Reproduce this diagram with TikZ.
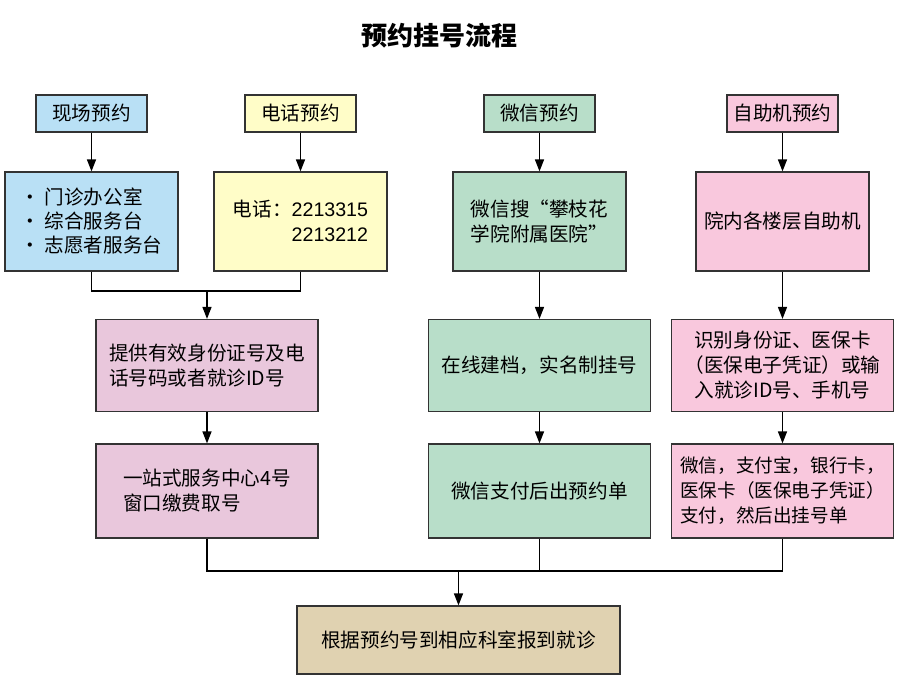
\documentclass[tikz,border=0pt]{standalone}
\usepackage{fontspec}
\newfontfamily\cjk{Noto Sans CJK SC}
\newfontfamily\lat{Liberation Sans}
\usetikzlibrary{arrows.meta}
\definecolor{xcblue}{HTML}{B9E0F5}
\definecolor{dhyellow}{HTML}{FFFDC8}
\definecolor{wxgreen}{HTML}{B8DEC9}
\definecolor{zzpink}{HTML}{F9C8DD}
\definecolor{tgmauve}{HTML}{E9C7DC}
\definecolor{jztan}{HTML}{E0D2B1}

\begin{document}
\begin{tikzpicture}[x=1pt,y=-1pt,
  box/.style={draw=black!80,line width=1.2pt,inner sep=0pt,
    font=\cjk\fontsize{19.6pt}{25pt}\selectfont},
  head/.style={box,minimum width=111pt,minimum height=37pt},
  mid/.style={box,minimum width=173pt,minimum height=99pt},
  low/.style={box,minimum width=222pt,minimum height=92pt},
  flow/.style={line width=1.4pt,-{Triangle[width=9pt,length=12pt]}},
  merge/.style={line width=1.4pt}]
  \useasboundingbox (0,0) rectangle (898,693);

  \node[font=\cjk\bfseries\fontsize{26pt}{30pt}\selectfont] (title) at (439,36) {预约挂号流程};

  % first row
  \node[head,fill=xcblue] (xianchang) at (91.5,113.5) {现场预约};
  \node[head,fill=dhyellow] (dianhua) at (300.5,113.5) {电话预约};
  \node[head,fill=wxgreen] (weixin) at (539.5,113.5) {微信预约};
  \node[head,fill=zzpink] (zizhu) at (782.5,113.5) {自助机预约};

  % second row
  \node[mid,fill=xcblue,align=left,font=\cjk\fontsize{19.6pt}{24pt}\selectfont] (xianchang2) at (91.5,221.5)
    {· 门诊办公室\\· 综合服务台\\· 志愿者服务台};
  \node[mid,fill=dhyellow,align=left] (dianhua2) at (300.5,221.5)
    {电话：{\lat 2213315}\\\phantom{电话：}{\lat 2213212}};
  \node[mid,fill=wxgreen,align=left] (weixin2) at (539.5,221.5)
    {微信搜“攀枝花\\学院附属医院”};
  \node[mid,fill=zzpink] (zizhu2) at (782.5,221.5) {院内各楼层自助机};

  % third row
  \node[low,fill=tgmauve,align=left] (tigong) at (207,365.5)
    {提供有效身份证号及电\\话号码或者就诊ID号};
  \node[low,fill=wxgreen] (jiandang) at (539.5,365.5) {在线建档，实名制挂号};
  \node[low,fill=zzpink,align=center] (shibie) at (782.5,365.5)
    {识别身份证、医保卡\\（医保电子凭证）或输\\入就诊ID号、手机号};

  % fourth row
  \node[low,fill=tgmauve,align=left,minimum height=94pt] (yizhan) at (207,491)
    {一站式服务中心4号\\窗口缴费取号};
  \node[low,fill=wxgreen,minimum height=94pt] (wxzhifu) at (539.5,491) {微信支付后出预约单};
  \node[low,fill=zzpink,align=left,minimum height=94pt,
    font=\cjk\fontsize{18.6pt}{25pt}\selectfont] (zhifu) at (782.5,491)
    {微信，支付宝，银行卡，\\医保卡（医保电子凭证）\\支付，然后出挂号单};

  \node[box,fill=jztan,minimum width=323pt,minimum height=68pt] (jiuzhen) at (458.5,640)
    {根据预约号到相应科室报到就诊};

  \coordinate (m1) at (207,291);
  \coordinate (m2) at (458.5,571);

  \draw[flow] (xianchang) -- (xianchang2);
  \draw[flow] (dianhua) -- (dianhua2);
  \draw[flow] (weixin) -- (weixin2);
  \draw[flow] (zizhu) -- (zizhu2);
  \draw[merge] (xianchang2.south) |- (m1) -| (dianhua2.south);
  \draw[flow] (m1) -- (tigong);
  \draw[flow] (weixin2) -- (jiandang);
  \draw[flow] (zizhu2) -- (shibie);
  \draw[flow] (tigong) -- (yizhan);
  \draw[flow] (jiandang) -- (wxzhifu);
  \draw[flow] (shibie) -- (zhifu);
  \draw[merge] (yizhan.south) |- (m2) -| (zhifu.south);
  \draw[merge] (wxzhifu.south) -- (wxzhifu.south |- m2);
  \draw[flow] (m2) -- (jiuzhen);
\end{tikzpicture}
\end{document}
